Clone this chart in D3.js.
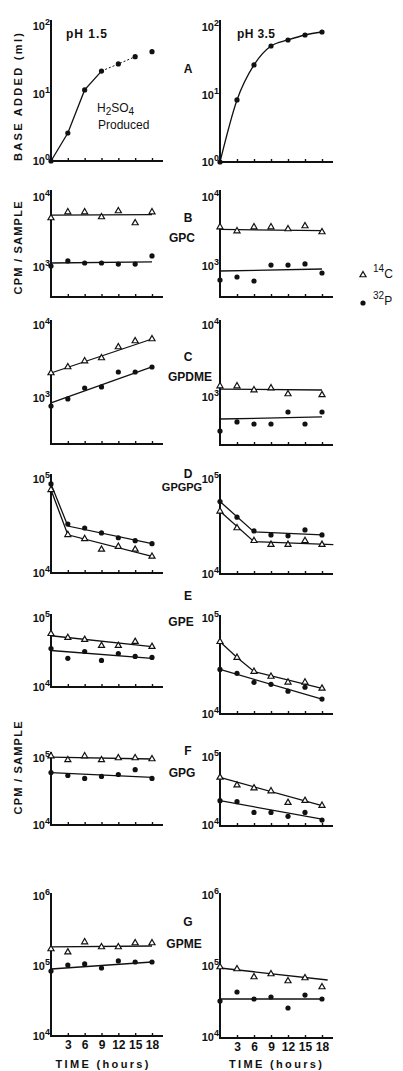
<!DOCTYPE html>
<html><head><meta charset="utf-8">
<script src="https://cdn.jsdelivr.net/npm/d3@7"></script>
<style>
html,body{margin:0;padding:0;background:#fff;}
svg{display:block;}
text{font-family:"Liberation Sans",Arial,sans-serif;fill:#111;}
</style></head><body>
<svg id="chart" width="403" height="1071"></svg>
<script>
// ---------------- DATA ----------------
const hours = [0, 3, 6, 9, 12, 15, 18];
const timeTicks = [3, 6, 9, 12, 15, 18];
const timeTickLabels = ["3", "6", "9", "12", "15", "18"];
const phLabels = ["pH 1.5", "pH 3.5"];
const rowLetters = ["A", "B", "C", "D", "E", "F", "G"];
const rowCompounds = ["", "GPC", "GPDME", "GPGPG", "GPE", "GPG", "GPME"];
const legendLabels = [["14", "C"], ["32", "P"]];

// A: base added (ml)
const baseAdded_pH15 = [1, 2.6, 11.3, 21.5, 27.4, 35.1, 41.6];
const baseAdded_pH35 = [1, 8.3, 27.4, 52.3, 64.2, 76.1, 84.3];

// B: GPC (cpm/sample)
const gpc14C_pH15 = [5010, 6100, 6100, 5180, 6310, 4250, 6100];
const gpc32P_pH15 = [1030, 1220, 1140, 1140, 1100, 1100, 1440];
const gpc14C_pH35 = [3670, 3210, 3670, 3670, 3440, 3800, 3110];
const gpc32P_pH35 = [627, 693, 606, 1030, 1030, 1070, 792];
const gpc14CFit_pH15 = [5500, 5600];
const gpc32PFit_pH15 = [1140, 1180];
const gpc14CFit_pH35 = [3400, 3250];
const gpc32PFit_pH35 = [847, 905];

// C: GPDME
const gpdme14C_pH15 = [2200, 2660, 3210, 3530, 5000, 6040, 6430];
const gpdme32P_pH15 = [777, 970, 1370, 1420, 2270, 2270, 2660];
const gpdme14C_pH35 = [1420, 1420, 1250, 1330, 1100, null, 1070];
const gpdme32P_pH35 = [337, 450, 422, 422, 619, 422, 619];
const gpdme14CFit_pH15 = [2200, 6430];
const gpdme32PFit_pH15 = [855, 2660];
const gpdme14CFit_pH35 = [1290, 1250];
const gpdme32PFit_pH35 = [495, 528];

// D: GPGPG
const gpgpg14C_pH15 = [76800, 25500, 23100, 17800, 19100, 17800, 15000];
const gpgpg32P_pH15 = [88700, 33200, 30100, 26700, 23700, 22100, 20500];
const gpgpg14C_pH35 = [45700, 30500, 22400, 20400, 20400, 22400, 20400];
const gpgpg32P_pH35 = [57900, 39600, 28400, 25800, 25200, 29100, 25800];
const gpgpgFitHours_pH15 = [0, 3, 18];
const gpgpg14CFit_pH15 = [76800, 25500, 15000];
const gpgpg32PFit_pH15 = [88700, 31600, 20500];
const gpgpg14CFitHours_pH35 = [0, 6, 20];
const gpgpg14CFit_pH35 = [45700, 21900, 20400];
const gpgpg32PFitHours_pH35 = [0, 6, 18];
const gpgpg32PFit_pH35 = [57900, 27700, 25800];

// E: GPE
const gpe14C_pH15 = [59100, 51800, 48500, 39800, 39800, 45400, 38500];
const gpe32P_pH15 = [36100, 26000, 32700, 24300, 30600, 27700, 26800];
const gpe14C_pH35 = [56600, 38700, 27700, 24600, 21400, 21400, 18500];
const gpe32P_pH35 = [29100, 26500, 21400, 20400, 17300, 19000, 14300];
const gpe14CFit_pH15 = [55300, 38500];
const gpe32PFit_pH15 = [33800, 26000];
const gpe14CFitHours_pH35 = [0, 3, 6, 18];
const gpe14CFit_pH35 = [56600, 38700, 27700, 18500];
const gpe32PFit_pH35 = [29100, 14300];

// F: GPG
const gpg14C_pH15 = [107000, 93500, 107000, 93500, 100000, 100000, 96700];
const gpg32P_pH15 = [60600, 54800, 49600, 53000, 56700, 67000, 49600];
const gpg14C_pH35 = [50100, 38500, 34900, 31600, 21300, 22800, 19300];
const gpg32P_pH35 = [22800, 22000, 15300, 15300, 13400, 15300, 11800];
const gpg14CFit_pH15 = [103000, 96700];
const gpg32PFit_pH15 = [60600, 51300];
const gpg14CFit_pH35 = [50100, 19300];
const gpg32PFit_pH35 = [22800, 12200];

// G: GPME
const gpme14C_pH15 = [175000, 158000, 220000, 187000, 187000, 213000, 213000];
const gpme32P_pH15 = [84900, 103000, 107000, 93600, 118000, 114000, 114000];
const gpme14C_pH35 = [96800, 90700, 70000, 77100, 61500, 67800, 50600];
const gpme32P_pH35 = [32100, 43000, 34300, 36600, 25600, 39000, 34300];
const gpme14CFit_pH15 = [187000, 193000];
const gpme32PFit_pH15 = [90600, 114000];
const gpme14CFitHours_pH35 = [0, 19];
const gpme14CFit_pH35 = [93700, 63500];
const gpme32PFit_pH35 = [34300, 34300];

const fitEnds = [0, 18];

// ---------------- LAYOUT ----------------
const cols = [
  {x0: 51, x18: 152, xEnd: 163},
  {x0: 220, x18: 322, xEnd: 333}
];
// per row, per column: [loExp, loY, hiExp, hiY, axisTop, axisBottom]
const rowScales = [
  [[0, 161, 2, 26, 20, 161], [0, 162, 2, 27, 20, 162]],
  [[3, 267, 4, 197, 190, 297], [3, 266, 4, 197, 190, 297]],
  [[3, 398, 4, 325, 320, 444], [3, 397, 4, 325, 320, 445]],
  [[4, 573, 5, 479, 474, 573], [4, 574, 5, 479, 474, 574]],
  [[4, 687, 5, 618, 614, 687], [4, 714, 5, 618, 615, 714]],
  [[4, 825, 5, 758, 752, 825], [4, 825, 5, 757, 752, 826]],
  [[4, 1036, 6, 896, 893, 1036], [4, 1037, 6, 895, 893, 1038]]
];
const letterPos = [[188, 68], [188, 217], [188, 356], [188, 473], [188, 595], [188, 750], [188, 921]];
const compoundPos = [null, [182, 237], [190, 376], [182, 486], [181, 621], [182, 772], [184, 943]];
const compoundSize = [12, 12, 12, 11, 12, 12, 12];

const zip = (xs, ys) => xs.map((h, i) => ({h, v: ys[i]})).filter(d => d.v != null);

const panels = [
  [ // A
    {dots: baseAdded_pH15, tri: null, fits: [
      {pts: zip(hours.slice(0, 4), baseAdded_pH15.slice(0, 4))},
      {pts: zip(hours.slice(3, 6), baseAdded_pH15.slice(3, 6)), dash: "2,2"}]},
    {dots: baseAdded_pH35, tri: null, fits: [{pts: zip(hours, baseAdded_pH35), curve: true}]}
  ],
  [
    {dots: gpc32P_pH15, tri: gpc14C_pH15, fits: [{pts: zip(fitEnds, gpc14CFit_pH15)}, {pts: zip(fitEnds, gpc32PFit_pH15)}]},
    {dots: gpc32P_pH35, tri: gpc14C_pH35, fits: [{pts: zip(fitEnds, gpc14CFit_pH35)}, {pts: zip(fitEnds, gpc32PFit_pH35)}]}
  ],
  [
    {dots: gpdme32P_pH15, tri: gpdme14C_pH15, fits: [{pts: zip(fitEnds, gpdme14CFit_pH15)}, {pts: zip(fitEnds, gpdme32PFit_pH15)}]},
    {dots: gpdme32P_pH35, tri: gpdme14C_pH35, fits: [{pts: zip(fitEnds, gpdme14CFit_pH35)}, {pts: zip(fitEnds, gpdme32PFit_pH35)}]}
  ],
  [
    {dots: gpgpg32P_pH15, tri: gpgpg14C_pH15, fits: [{pts: zip(gpgpgFitHours_pH15, gpgpg14CFit_pH15)}, {pts: zip(gpgpgFitHours_pH15, gpgpg32PFit_pH15)}]},
    {dots: gpgpg32P_pH35, tri: gpgpg14C_pH35, fits: [{pts: zip(gpgpg14CFitHours_pH35, gpgpg14CFit_pH35)}, {pts: zip(gpgpg32PFitHours_pH35, gpgpg32PFit_pH35)}]}
  ],
  [
    {dots: gpe32P_pH15, tri: gpe14C_pH15, fits: [{pts: zip(fitEnds, gpe14CFit_pH15)}, {pts: zip(fitEnds, gpe32PFit_pH15)}]},
    {dots: gpe32P_pH35, tri: gpe14C_pH35, fits: [{pts: zip(gpe14CFitHours_pH35, gpe14CFit_pH35)}, {pts: zip(fitEnds, gpe32PFit_pH35)}]}
  ],
  [
    {dots: gpg32P_pH15, tri: gpg14C_pH15, fits: [{pts: zip(fitEnds, gpg14CFit_pH15)}, {pts: zip(fitEnds, gpg32PFit_pH15)}]},
    {dots: gpg32P_pH35, tri: gpg14C_pH35, fits: [{pts: zip(fitEnds, gpg14CFit_pH35)}, {pts: zip(fitEnds, gpg32PFit_pH35)}]}
  ],
  [
    {dots: gpme32P_pH15, tri: gpme14C_pH15, fits: [{pts: zip(fitEnds, gpme14CFit_pH15)}, {pts: zip(fitEnds, gpme32PFit_pH15)}]},
    {dots: gpme32P_pH35, tri: gpme14C_pH35, fits: [{pts: zip(gpme14CFitHours_pH35, gpme14CFit_pH35)}, {pts: zip(fitEnds, gpme32PFit_pH35)}]}
  ]
];

// ---------------- DRAW ----------------
const svg = d3.select("#chart");
const ink = "#111";
const triSym = d3.symbol().type(d3.symbolTriangle).size(16);

function tenPow(g, x, y, exp) {
  const t = g.append("text").attr("x", x).attr("y", y + 4).attr("text-anchor", "end")
    .style("font-size", "11px").style("font-weight", "bold");
  t.append("tspan").text("10");
  t.append("tspan").attr("dy", -5).style("font-size", "9px").text(exp);
}

panels.forEach((row, ri) => {
  row.forEach((p, ci) => {
    const col = cols[ci];
    const [lo, loY, hi, hiY, top, bottom] = rowScales[ri][ci];
    const x = d3.scaleLinear().domain([0, 18]).range([col.x0, col.x18]);
    const y = d3.scaleLog().domain([Math.pow(10, lo), Math.pow(10, hi)]).range([loY, hiY]);
    const g = svg.append("g");

    g.append("line").attr("x1", col.x0).attr("x2", col.x0).attr("y1", top).attr("y2", bottom + 1)
      .attr("stroke", ink).attr("stroke-width", 2);
    g.append("line").attr("x1", col.x0 - 1).attr("x2", col.xEnd).attr("y1", bottom).attr("y2", bottom)
      .attr("stroke", ink).attr("stroke-width", 2);

    const ax = d3.axisBottom(x).tickValues(timeTicks).tickSize(-3).tickPadding(4)
      .tickFormat((d, i) => ri === 6 ? timeTickLabels[i] : "");
    const axg = g.append("g").attr("transform", `translate(0,${bottom})`).call(ax);
    axg.select(".domain").remove();
    axg.selectAll("line").attr("stroke", ink).attr("stroke-width", 1.4);
    axg.selectAll("text").style("font-size", "12px").style("font-weight", "bold").attr("fill", ink)
      .style("font-family", "'Liberation Sans', Arial, sans-serif");

    for (let e = lo; e <= hi; e++) tenPow(g, col.x0 - 1, y(Math.pow(10, e)), String(e));

    p.fits.forEach(f => {
      const line = d3.line().x(d => x(d.h)).y(d => y(d.v));
      if (f.curve) line.curve(d3.curveMonotoneX);
      g.append("path").attr("d", line(f.pts)).attr("fill", "none").attr("stroke", ink)
        .attr("stroke-width", f.dash ? 1 : 1.3).attr("stroke-dasharray", f.dash || null);
    });

    if (p.tri) {
      g.selectAll(".tri").data(zip(hours, p.tri)).enter().append("path")
        .attr("d", triSym).attr("transform", d => `translate(${x(d.h)},${y(d.v)})`)
        .attr("fill", "#fff").attr("stroke", ink).attr("stroke-width", 1.2);
    }
    g.selectAll(".dot").data(zip(hours, p.dots)).enter().append("circle")
      .attr("cx", d => x(d.h)).attr("cy", d => y(d.v)).attr("r", 2.6).attr("fill", ink);

    if (ri === 6) {
      g.append("text").attr("x", (col.x0 + col.xEnd) / 2 - 5 + ci * 4).attr("y", 1068)
        .attr("text-anchor", "middle").style("font-size", "11px").style("font-weight", "bold")
        .attr("textLength", 93).attr("lengthAdjust", "spacing").text("TIME (hours)");
    }
  });
});

svg.append("text").attr("x", 66).attr("y", 38).style("font-size", "12px").style("font-weight", "bold")
  .attr("textLength", 41).text(phLabels[0]);
svg.append("text").attr("x", 237).attr("y", 38).style("font-size", "12px").style("font-weight", "bold")
  .attr("textLength", 38).text(phLabels[1]);

const h2 = svg.append("text").attr("x", 97).attr("y", 112).style("font-size", "12px");
h2.append("tspan").text("H");
h2.append("tspan").attr("dy", 3).style("font-size", "10px").text("2");
h2.append("tspan").attr("dy", -3).text("SO");
h2.append("tspan").attr("dy", 3).style("font-size", "10px").text("4");
svg.append("text").attr("x", 98).attr("y", 129).style("font-size", "12px").text("Produced");

rowLetters.forEach((L, i) => {
  svg.append("text").attr("x", letterPos[i][0]).attr("y", letterPos[i][1] + 4.5)
    .attr("text-anchor", "middle").style("font-size", "12px").style("font-weight", "bold").text(L);
  if (compoundPos[i]) {
    svg.append("text").attr("x", compoundPos[i][0]).attr("y", compoundPos[i][1] + 4.5)
      .attr("text-anchor", "middle").style("font-size", compoundSize[i] + "px").style("font-weight", "bold")
      .text(rowCompounds[i]);
  }
});

function vlabel(txt, cx, cy, len) {
  svg.append("text").attr("transform", `translate(${cx},${cy}) rotate(-90)`)
    .attr("text-anchor", "middle").attr("dy", "0.35em")
    .style("font-size", "11px").style("font-weight", "bold")
    .attr("textLength", len).attr("lengthAdjust", "spacing").text(txt);
}
vlabel("BASE ADDED (ml)", 18, 97, 128);
vlabel("CPM / SAMPLE", 18, 248, 93);
vlabel("CPM / SAMPLE", 18, 768, 93);

svg.append("path").attr("d", triSym).attr("transform", "translate(363,275)")
  .attr("fill", "#fff").attr("stroke", ink).attr("stroke-width", 1.2);
svg.append("circle").attr("cx", 363).attr("cy", 303).attr("r", 2.6).attr("fill", ink);
[[275, 0], [302, 1]].forEach(([yy, i]) => {
  const t = svg.append("text").attr("x", 373).attr("y", yy + 3).style("font-size", "12px");
  t.append("tspan").attr("dy", -6).style("font-size", "10px").text(legendLabels[i][0]);
  t.append("tspan").attr("dy", 6).text(legendLabels[i][1]);
});
</script>
</body></html>
